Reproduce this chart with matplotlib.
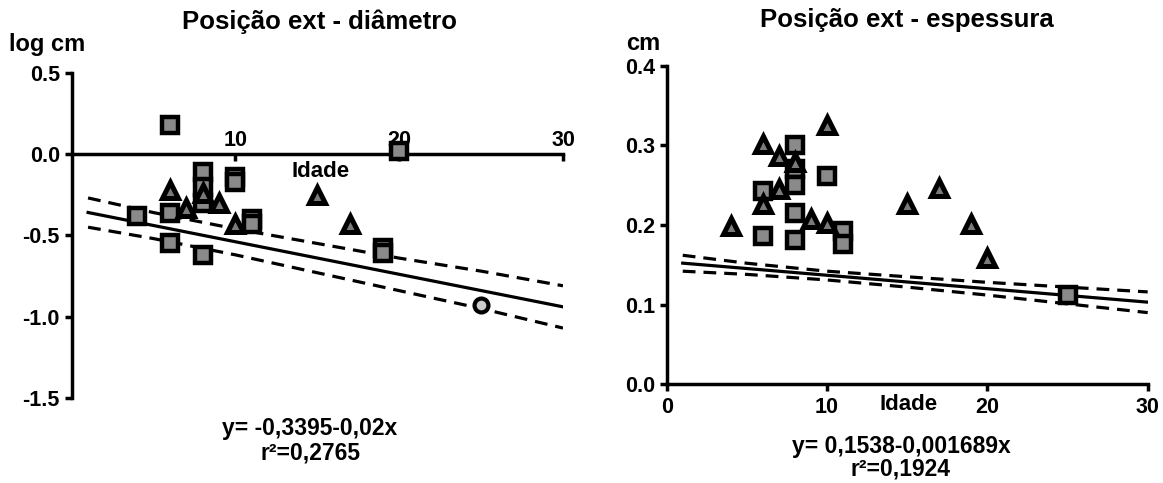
import numpy as np
import matplotlib
matplotlib.use('Agg')
import matplotlib.pyplot as plt

plt.rcParams['font.family'] = ['Liberation Sans', 'DejaVu Sans']
plt.rcParams['font.weight'] = 'bold'
plt.rcParams['axes.unicode_minus'] = False

W, H = 1163, 483

# ---- painel esquerdo: diametro (log cm) ----
left_sq_x = [6, 4, 6, 6, 8, 8, 8, 8, 10, 10, 11, 11, 19, 19, 20]
left_sq_y = [0.18, -0.38, -0.36, -0.55, -0.11, -0.20, -0.30, -0.62,
             -0.14, -0.17, -0.40, -0.43, -0.58, -0.61, 0.02]
left_tri_x = [6, 7, 8, 9, 10, 15, 17]
left_tri_y = [-0.22, -0.33, -0.24, -0.30, -0.43, -0.25, -0.43]
left_circ_x = [25]
left_circ_y = [-0.93]
left_a, left_b = -0.3395, -0.02

# ---- painel direito: espessura (cm) ----
right_sq_x = [6, 6, 8, 8, 8, 8, 8, 10, 11, 11, 25]
right_sq_y = [0.243, 0.186, 0.300, 0.270, 0.250, 0.215, 0.181, 0.262,
              0.192, 0.176, 0.112]
right_tri_x = [4, 6, 6, 7, 7, 8, 9, 10, 10, 15, 17, 19, 20]
right_tri_y = [0.199, 0.302, 0.226, 0.287, 0.245, 0.279, 0.208, 0.326,
               0.202, 0.226, 0.246, 0.201, 0.158]
right_a, right_b = 0.1538, -0.001689

# bandas de confianca
band_x = [1, 5, 10, 15, 20, 25, 30]
left_upper = [-0.27, -0.36, -0.46, -0.55, -0.64, -0.72, -0.81]
left_lower = [-0.45, -0.52, -0.62, -0.73, -0.84, -0.95, -1.07]
right_upper = [0.162, 0.152, 0.142, 0.135, 0.128, 0.122, 0.116]
right_lower = [0.142, 0.138, 0.131, 0.122, 0.112, 0.101, 0.090]


def px(x, y):
    return x / W, 1 - y / H


def draw_fit(ax, a, b, upper, lower):
    xs = np.array(band_x)
    ax.plot(xs, a + b * xs, color='black', lw=2.3, zorder=2)
    for yb in (upper, lower):
        ax.plot(band_x, yb, color='black', lw=2.3, ls=(0, (4, 2.5)), zorder=2)


def draw_points(ax, sx, sy, tx, ty, cx=None, cy=None):
    ax.plot(sx, sy, 's', ms=11.5, mfc='#8a8a8a', mec='black', mew=3.2, zorder=4)
    ax.plot(tx, ty, '^', ms=12, mfc='#7a7a7a', mec='black', mew=3.6, zorder=4)
    if cx is not None:
        ax.plot(cx, cy, 'o', ms=10, mfc='#cccccc', mec='black', mew=3, zorder=4)


def style(ax):
    for s in ('top', 'right'):
        ax.spines[s].set_visible(False)
    for s in ('left', 'bottom'):
        ax.spines[s].set_linewidth(2.5)
    ax.tick_params(width=2.5, length=5, labelsize=15.5, direction='out')
    for lab in ax.get_xticklabels() + ax.get_yticklabels():
        lab.set_fontweight('bold')


def main():
    fig = plt.figure(figsize=(W / 100, H / 100), dpi=100)

    # esquerdo
    ax1 = fig.add_axes([71.7 / W, (H - 398) / H, (563 - 71.7) / W, (398 - 72.7) / H])
    draw_fit(ax1, left_a, left_b, left_upper, left_lower)
    draw_points(ax1, left_sq_x, left_sq_y, left_tri_x, left_tri_y,
                left_circ_x, left_circ_y)
    ax1.set_xlim(0, 30)
    ax1.set_ylim(-1.5, 0.5)
    ax1.spines['bottom'].set_position(('data', 0))
    ax1.set_xticks([10, 20, 30])
    ax1.set_yticks([-1.5, -1.0, -0.5, 0.0, 0.5])
    ax1.set_yticklabels(['-1.5', '-1.0', '-0.5', '0.0', '0.5'])
    style(ax1)
    ax1.tick_params(axis='x', pad=-22)
    ax1.text(15.2, -0.11, 'Idade', ha='center', va='center',
             fontsize=16, fontweight='bold')

    fig.text(*px(319, 22), 'Posição ext - diâmetro', ha='center', va='center',
             fontsize=18.5, fontweight='bold')
    fig.text(*px(47, 45), 'log cm', ha='center', va='center',
             fontsize=17, fontweight='bold')
    fig.text(*px(310, 429), 'y= -0,3395-0,02x', ha='center', va='center',
             fontsize=16.5, fontweight='bold')
    fig.text(*px(310, 453), 'r²=0,2765', ha='center', va='center',
             fontsize=16.5, fontweight='bold')

    # direito
    ax2 = fig.add_axes([666.7 / W, (H - 384.3) / H, 481 / W, (384.3 - 65.7) / H])
    draw_fit(ax2, right_a, right_b, right_upper, right_lower)
    draw_points(ax2, right_sq_x, right_sq_y, right_tri_x, right_tri_y)
    ax2.set_xlim(0, 30)
    ax2.set_ylim(0, 0.4)
    ax2.set_xticks([0, 10, 20, 30])
    ax2.set_yticks([0.0, 0.1, 0.2, 0.3, 0.4])
    ax2.set_yticklabels(['0.0', '0.1', '0.2', '0.3', '0.4'])
    style(ax2)
    ax2.tick_params(axis='x', pad=4)

    fig.text(*px(909, 405), 'Idade', ha='center', va='center',
             fontsize=16, fontweight='bold')
    fig.text(*px(907, 20), 'Posição ext - espessura', ha='center', va='center',
             fontsize=18.5, fontweight='bold')
    fig.text(*px(643, 43), 'cm', ha='center', va='center',
             fontsize=17, fontweight='bold')
    fig.text(*px(901, 446), 'y= 0,1538-0,001689x', ha='center', va='center',
             fontsize=16.5, fontweight='bold')
    fig.text(*px(901, 469), 'r²=0,1924', ha='center', va='center',
             fontsize=16.5, fontweight='bold')

    fig.savefig('out.png', dpi=100)


if __name__ == '__main__':
    main()
